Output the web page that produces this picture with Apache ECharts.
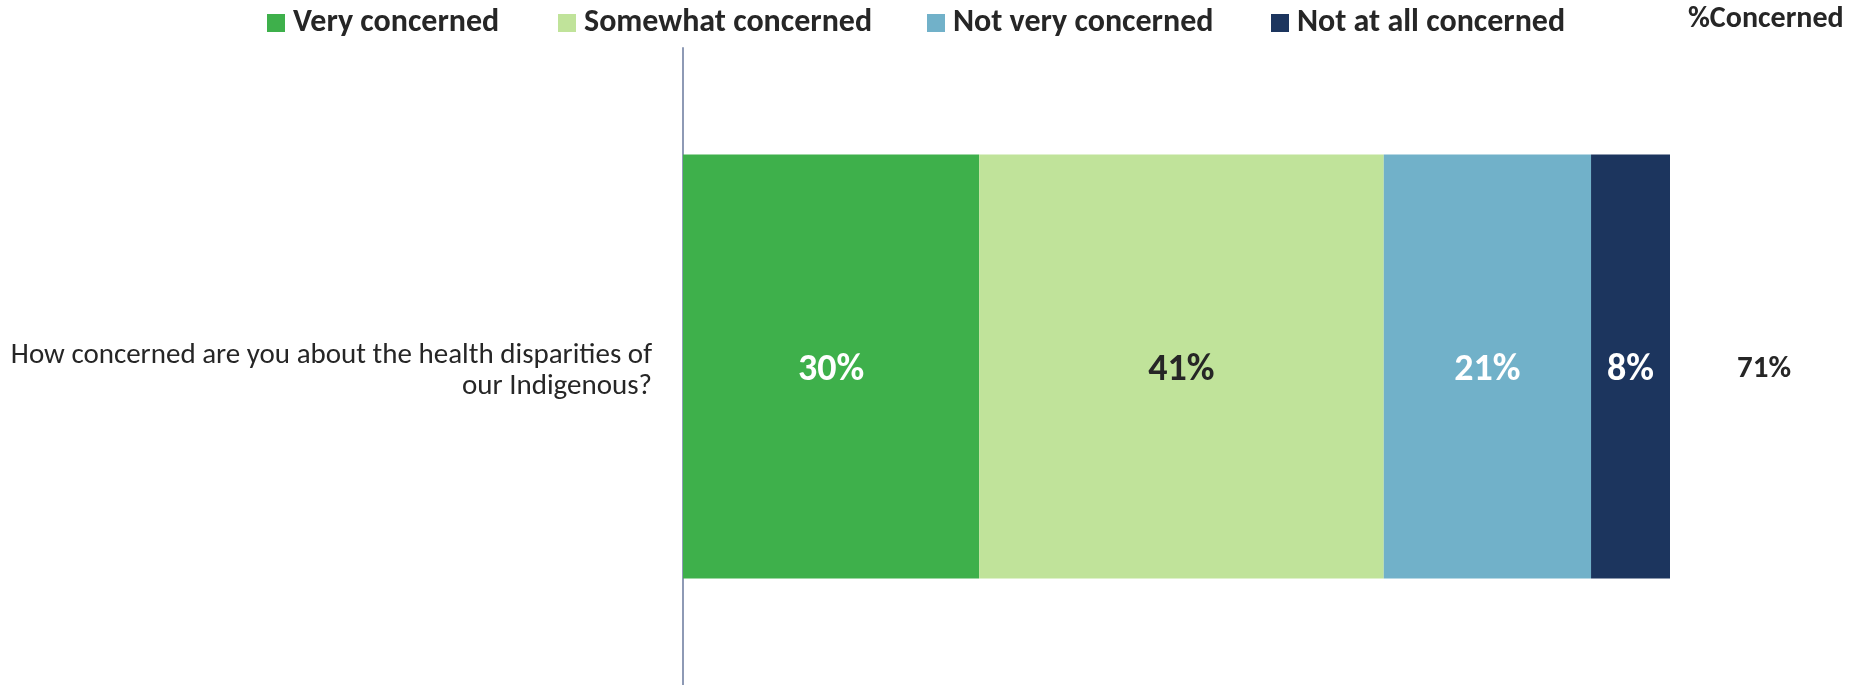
<!DOCTYPE html>
<html>
<head>
<meta charset="utf-8">
<script src="https://cdn.jsdelivr.net/npm/echarts@6/dist/echarts.min.js"></script>
<style>
html,body{margin:0;padding:0;background:#fff;}
#c{width:1852px;height:685px;}
</style>
</head>
<body>
<div id="c"></div>
<script>
const categories = ['How concerned are you about the health disparities of\nour Indigenous?'];
const seriesNames = ['Very concerned', 'Somewhat concerned', 'Not very concerned', 'Not at all concerned'];
const veryConcerned = [30];
const somewhatConcerned = [41];
const notVeryConcerned = [21];
const notAtAllConcerned = [8];
const pctConcerned = [71];
const colors = ['#3eb04b', '#c0e39a', '#71b1c9', '#1c355e'];
const labelColors = ['#ffffff', '#262626', '#ffffff', '#ffffff'];
const legendLeft = [267, 558, 927, 1271];

const FONT = 'Carlito, Lato, sans-serif';
const values = [veryConcerned, somewhatConcerned, notVeryConcerned, notAtAllConcerned];

const series = values.map((v, i) => ({
  name: seriesNames[i],
  type: 'bar',
  stack: 'total',
  barWidth: 424,
  data: v,
  itemStyle: { color: colors[i] },
  label: {
    show: true,
    position: 'inside',
    offset: [0, 4],
    formatter: p => p.value + '%',
    color: labelColors[i],
    fontFamily: FONT,
    fontWeight: 'bold',
    fontSize: 38
  },
  emphasis: { disabled: true }
}));
series.push({
  name: '%Concerned',
  type: 'bar',
  stack: 'total',
  barWidth: 424,
  data: pctConcerned.map(() => 0),
  itemStyle: { color: 'transparent' },
  label: {
    show: true,
    position: 'right',
    distance: 67,
    offset: [0, 3],
    formatter: p => pctConcerned[p.dataIndex] + '%',
    color: '#262626',
    fontFamily: FONT,
    fontWeight: 'bold',
    fontSize: 31
  },
  emphasis: { disabled: true }
});

const legends = seriesNames.map((n, i) => ({
  data: [n],
  left: legendLeft[i],
  top: 7,
  padding: 0,
  itemWidth: 18,
  itemHeight: 18,
  icon: 'rect',
  selectedMode: false,
  textStyle: {
    color: '#262626',
    fontFamily: FONT,
    fontWeight: 'bold',
    fontSize: 32,
    padding: [0, 0, 0, 3]
  }
}));

const chart = echarts.init(document.getElementById('c'), null, { renderer: 'canvas' });
chart.setOption({
  animation: false,
  backgroundColor: '#ffffff',
  title: {
    text: '%Concerned',
    left: 1688,
    top: 4,
    padding: 0,
    textStyle: { color: '#262626', fontFamily: FONT, fontWeight: 'bold', fontSize: 30 }
  },
  legend: legends,
  grid: { left: 683, right: 182, top: 48, bottom: 0, containLabel: false },
  xAxis: { type: 'value', min: 0, max: 100, show: false },
  yAxis: {
    type: 'category',
    data: categories,
    axisLine: { show: true, lineStyle: { color: '#8e9ab5', width: 2 } },
    axisTick: { show: false },
    splitLine: { show: false },
    axisLabel: {
      margin: 31,
      align: 'right',
      color: '#262626',
      fontFamily: FONT,
      fontSize: 29,
      lineHeight: 33,
      formatter: v => v.split('\n').map((s, k) => '{' + (k === 0 ? 'a' : 'b') + '|' + s + '}').join('\n'),
      rich: {
        a: { fontFamily: FONT, fontSize: 29, color: '#262626', lineHeight: 41, verticalAlign: 'bottom' },
        b: { fontFamily: FONT, fontSize: 29, color: '#262626', lineHeight: 33, padding: [0, 0, 0, 0] }
      }
    }
  },
  series: series
});
</script>
</body>
</html>
